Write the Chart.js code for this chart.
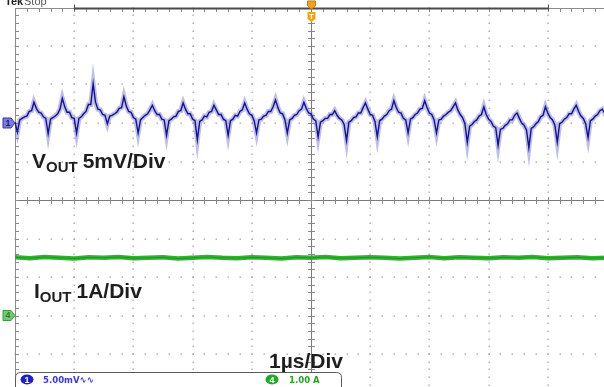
<!DOCTYPE html>
<html>
<head>
<meta charset="utf-8">
<script src="https://cdn.jsdelivr.net/npm/chart.js@4.4.0/dist/chart.umd.min.js"></script>
<style>
  html, body { margin: 0; padding: 0; background: #fff; overflow: hidden; width: 604px; height: 387px; }
  canvas { display: block; }
</style>
</head>
<body>
<canvas id="scope" width="608" height="394"></canvas>
<script>
// Horizontal: 1 µs/div, 10 divisions
const timeDivUs = 1;
const timeDivs = 10;

// Channel 1: output voltage ripple, AC coupled, 5 mV/div, sampled every 40 ns
const voutSampleNs = 40;
const voutMv = [
  0.1, -1.2, 0.4, 0.6, 0.8, 0.9, 1.5, 1.6, 2.7, 1.9, 1.4, 1.3, 0.8, 0.6, -1.4,
  0.5, 0.7, 0.9, 1.2, 1.8, 3.2, 2.1, 1.4, 1.4, 0.7, 0.6, -1.3,
  0.6, 0.8, 1.2, 1.5, 2.4, 2.4, 5.1, 2.7, 1.8, 1.7, 1.1, 1.0, -0.1,
  0.9, 1.0, 1.2, 1.4, 1.9, 2.0, 3.4, 2.2, 1.5, 1.4, 0.7, 0.5, -1.3,
  0.4, 0.7, 1.0, 1.2, 1.7, 2.3, 1.6, 1.1, 1.1, 0.5, 0.4, -1.6,
  0.3, 0.5, 0.8, 0.9, 1.5, 1.6, 2.6, 1.8, 1.2, 1.2, 0.5, 0.3, -2.2,
  0.2, 0.4, 0.9, 0.8, 1.4, 1.5, 2.3, 1.7, 1.1, 1.1, 0.5, 0.3, -1.6,
  0.3, 0.5, 1.0, 0.9, 1.5, 1.7, 2.6, 1.8, 1.2, 1.0, 0.3, -1.3,
  0.4, 0.5, 0.9, 1.0, 1.5, 1.5, 2.1, 3.0, 2.0, 1.3, 1.2, 0.4, -1.3,
  0.4, 0.6, 1.0, 1.1, 1.6, 1.8, 2.7, 1.9, 1.3, 1.2, 0.5, 0.3, -1.8,
  0.1, 0.3, 0.6, 0.6, 1.1, 1.1, 1.6, 1.0, 0.6, 0.4, -0.2, -2.3,
  0.1, 0.3, 0.7, 0.8, 1.3, 1.3, 2.0, 2.6, 1.8, 1.1, 1.0, 0.2, -1.8,
  0.3, 0.5, 0.9, 1.1, 1.6, 1.8, 2.9, 2.0, 1.4, 1.3, 0.6, 0.4, -1.3,
  0.5, 0.7, 1.1, 1.3, 1.8, 1.9, 2.9, 2.0, 1.3, 1.1, 0.4, -1.3,
  0.4, 0.5, 0.9, 1.1, 1.4, 1.6, 2.1, 2.6, 1.7, 1.1, 0.7, -0.1, -2.5,
  -0.4, -0.2, 0.2, 0.4, 0.9, 1.1, 2.1, 1.1, 0.5, 0.2, -0.4, -0.6, -2.9,
  -0.8, -0.7, -0.3, -0.1, 0.4, 0.4, 1.0, 1.3, 0.6, 0.0, -0.3, -0.9, -3.2,
  -0.7, -0.5, -0.1, 0.2, 0.8, 1.0, 2.1, 1.3, 0.7, 0.4, -0.3, -2.5,
  -0.1, 0.1, 0.5, 0.7, 1.2, 1.2, 1.8, 2.3, 1.5, 0.9, 0.6, -0.1, -1.9,
  0.3, 0.5, 0.9, 1.1, 1.6, 1.8, 1.3, 0.7
];
const voutMvPerDiv = 5;
const voutOffsetDiv = 2;     // channel 1 ground marker, divisions above centre

// Channel 4: output current, 1 A/div, sampled every 250 ns
const ioutSampleNs = 250;
const ioutA = [
  1.51, 1.49, 1.52, 1.50, 1.48, 1.51, 1.50, 1.52, 1.49, 1.50, 1.51,
  1.48, 1.50, 1.52, 1.50, 1.49, 1.51, 1.50, 1.48, 1.51, 1.50,
  1.52, 1.49, 1.50, 1.51, 1.50, 1.48, 1.50, 1.52, 1.49, 1.51,
  1.50, 1.49, 1.51, 1.50, 1.52, 1.49, 1.50, 1.51, 1.49, 1.50
];
const ioutAPerDiv = 1;
const ioutOffsetDiv = -3;    // channel 4 ground marker

const vertDivs = 10;

const toPoints = (vals, stepNs) => vals.map((v, i) => ({ x: i * stepNs / 1000, y: v }));
const voutPts = toPoints(voutMv, voutSampleNs);
const ioutPts = toPoints(ioutA, ioutSampleNs);

const LABEL_FONT = '"Liberation Sans", Arial, sans-serif';

// Oscilloscope graticule: dotted divisions, ticked centre cross and border
const graticule = {
  id: 'graticule',
  beforeDatasetsDraw(chart) {
    const { ctx, chartArea: a, scales } = chart;
    const xs = scales.x, ys = scales.yV;
    const xMin = 0, xMax = timeDivUs * timeDivs;
    const yMin = ys.min, yMax = ys.max;
    const xMinor = timeDivUs / 5, yMinor = voutMvPerDiv / 5;
    const xc = xs.getPixelForValue(xMax / 2);
    const yc = ys.getPixelForValue((yMin + yMax) / 2);
    ctx.save();
    ctx.fillStyle = '#a8a8a8';
    // vertical dotted lines
    for (let k = 1; k < timeDivs; k++) {
      if (k === timeDivs / 2) continue;
      const px = Math.round(xs.getPixelForValue(k * timeDivUs));
      for (let v = yMin; v <= yMax + 1e-9; v += yMinor) {
        const py = Math.round(ys.getPixelForValue(v));
        ctx.fillRect(px - 0.5, py - 0.5, 1.3, 1.5);
      }
    }
    // horizontal dotted lines
    for (let j = 1; j < vertDivs; j++) {
      if (j === vertDivs / 2) continue;
      const py = Math.round(ys.getPixelForValue(yMin + j * voutMvPerDiv));
      for (let t = xMin; t <= xMax + 1e-9; t += xMinor) {
        const px = Math.round(xs.getPixelForValue(t));
        ctx.fillRect(px - 0.5, py - 0.5, 1.5, 1.3);
      }
    }
    // border
    ctx.strokeStyle = '#8c8c8c';
    ctx.lineWidth = 1;
    ctx.beginPath();
    ctx.moveTo(Math.round(a.left) + 0.5, Math.round(a.bottom));
    ctx.lineTo(Math.round(a.left) + 0.5, Math.round(a.top) + 0.5);
    ctx.lineTo(Math.round(a.right), Math.round(a.top) + 0.5);
    ctx.stroke();
    // centre cross
    ctx.strokeStyle = '#7a7a7a';
    ctx.beginPath();
    ctx.moveTo(Math.round(xc) + 0.5, a.top);
    ctx.lineTo(Math.round(xc) + 0.5, a.bottom);
    ctx.moveTo(a.left, Math.round(yc) + 0.5);
    ctx.lineTo(a.right, Math.round(yc) + 0.5);
    ctx.stroke();
    // minor ticks
    ctx.strokeStyle = '#8a8a8a';
    ctx.beginPath();
    for (let v = yMin; v <= yMax + 1e-9; v += yMinor) {
      const py = Math.round(ys.getPixelForValue(v)) + 0.5;
      ctx.moveTo(Math.round(xc) - 3, py); ctx.lineTo(Math.round(xc) + 4, py);
      ctx.moveTo(Math.round(a.left), py); ctx.lineTo(Math.round(a.left) + 4, py);
    }
    for (let t = xMin; t <= xMax + 1e-9; t += xMinor) {
      const px = Math.round(xs.getPixelForValue(t)) + 0.5;
      ctx.moveTo(px, Math.round(yc) - 3); ctx.lineTo(px, Math.round(yc) + 4);
      ctx.moveTo(px, Math.round(a.top)); ctx.lineTo(px, Math.round(a.top) + 4);
    }
    ctx.stroke();
    // record window bar along the top edge
    const barL = xs.getPixelForValue(1), barR = xs.getPixelForValue(9);
    ctx.strokeStyle = '#4a4a4a';
    ctx.lineWidth = 2;
    ctx.beginPath();
    ctx.moveTo(barL, Math.round(a.top) + 0.5);
    ctx.lineTo(barR, Math.round(a.top) + 0.5);
    ctx.stroke();
    ctx.lineWidth = 1;
    ctx.beginPath();
    ctx.moveTo(Math.round(barL) + 0.5, a.top - 3); ctx.lineTo(Math.round(barL) + 0.5, a.top + 3);
    ctx.moveTo(Math.round(barR) + 0.5, a.top - 3); ctx.lineTo(Math.round(barR) + 0.5, a.top + 3);
    ctx.stroke();
    ctx.restore();
  }
};

function drawSubLabel(ctx, x, y, main, sub, rest) {
  ctx.font = 'bold 21px ' + LABEL_FONT;
  ctx.fillText(main, x, y);
  let cx = x + ctx.measureText(main).width;
  ctx.font = 'bold 15px ' + LABEL_FONT;
  ctx.fillText(sub, cx, y + 4);
  cx += ctx.measureText(sub).width + 5;
  ctx.font = 'bold 21px ' + LABEL_FONT;
  ctx.fillText(rest, cx, y);
}

function channelMarker(ctx, y, fill, stroke, txt, txtColor) {
  ctx.save();
  ctx.beginPath();
  ctx.moveTo(3, y - 5);
  ctx.lineTo(11, y - 5);
  ctx.lineTo(15, y);
  ctx.lineTo(11, y + 5);
  ctx.lineTo(3, y + 5);
  ctx.closePath();
  ctx.fillStyle = fill;
  ctx.fill();
  ctx.strokeStyle = stroke;
  ctx.lineWidth = 1;
  ctx.stroke();
  ctx.fillStyle = txtColor;
  ctx.font = 'bold 9px ' + LABEL_FONT;
  ctx.textAlign = 'center';
  ctx.textBaseline = 'middle';
  ctx.fillText(txt, 8, y + 0.5);
  ctx.restore();
}

// Labels, channel markers, trigger marker and status bar
const annotations = {
  id: 'annotations',
  afterDraw(chart) {
    const { ctx, scales } = chart;
    const xs = scales.x;
    ctx.save();
    ctx.fillStyle = '#1e1e1e';
    ctx.textBaseline = 'alphabetic';
    drawSubLabel(ctx, 32, 168, 'V', 'OUT', '5mV/Div');
    drawSubLabel(ctx, 34, 298, 'I', 'OUT', '1A/Div');
    ctx.font = 'bold 21px ' + LABEL_FONT;
    ctx.fillText('1µs/Div', 269, 368);

    // Tek Stop (top-left)
    ctx.font = 'bold 11px ' + LABEL_FONT;
    ctx.fillText('Tek', 5, 5);
    ctx.font = '11px ' + LABEL_FONT;
    ctx.fillStyle = '#555';
    ctx.fillText('Stop', 24, 5);

    // channel ground markers
    channelMarker(ctx, scales.yV.getPixelForValue(0), '#7c7cd8', '#3434a8', '1', '#1c1c80');
    channelMarker(ctx, scales.yI.getPixelForValue(0), '#74c874', '#3c9a3c', '4', '#2f7f2f');

    // trigger position marker
    const tx = Math.round(xs.getPixelForValue(timeDivUs * timeDivs / 2)) + 0.5;
    ctx.fillStyle = '#f4a21e';
    ctx.strokeStyle = '#c87a08';
    ctx.beginPath();
    ctx.moveTo(tx - 4, 1); ctx.lineTo(tx + 4, 1); ctx.lineTo(tx + 4, 6);
    ctx.lineTo(tx, 9); ctx.lineTo(tx - 4, 6); ctx.closePath();
    ctx.fill(); ctx.stroke();
    ctx.beginPath();
    ctx.moveTo(tx - 4, 12); ctx.lineTo(tx + 4, 12); ctx.lineTo(tx + 4, 19);
    ctx.lineTo(tx, 22); ctx.lineTo(tx - 4, 19); ctx.closePath();
    ctx.fill();
    ctx.fillStyle = '#fff';
    ctx.font = 'bold 8px ' + LABEL_FONT;
    ctx.textAlign = 'center';
    ctx.fillText('T', tx, 19);
    ctx.textAlign = 'left';

    // status bar
    const bx = 15.5, by = 372.5, bw = 326, bh = 24, r = 5;
    ctx.beginPath();
    ctx.moveTo(bx + r, by);
    ctx.lineTo(bx + bw - r, by);
    ctx.quadraticCurveTo(bx + bw, by, bx + bw, by + r);
    ctx.lineTo(bx + bw, by + bh);
    ctx.lineTo(bx, by + bh);
    ctx.lineTo(bx, by + r);
    ctx.quadraticCurveTo(bx, by, bx + r, by);
    ctx.closePath();
    ctx.fillStyle = '#fff';
    ctx.fill();
    ctx.strokeStyle = '#5a5a5a';
    ctx.lineWidth = 1;
    ctx.stroke();

    ctx.beginPath();
    ctx.ellipse(27, 379.5, 6.5, 5, 0, 0, Math.PI * 2);
    ctx.fillStyle = '#2222c0';
    ctx.fill();
    ctx.beginPath();
    ctx.ellipse(272, 379.5, 6.5, 5, 0, 0, Math.PI * 2);
    ctx.fillStyle = '#22a822';
    ctx.fill();
    ctx.fillStyle = '#fff';
    ctx.font = 'bold 9px ' + LABEL_FONT;
    ctx.textAlign = 'center';
    ctx.fillText('1', 27, 383);
    ctx.fillText('4', 272, 383);
    ctx.textAlign = 'left';
    ctx.font = 'bold 9.5px "DejaVu Sans Condensed", "DejaVu Sans", sans-serif';
    ctx.fillStyle = '#3a3ac8';
    ctx.fillText('5.00mV∿∿', 43, 383);
    ctx.fillStyle = '#2aa02a';
    ctx.fillText('1.00 A', 289, 383);
    ctx.restore();
  }
};

new Chart(document.getElementById('scope'), {
  type: 'line',
  data: {
    datasets: [
      {
        data: voutPts, yAxisID: 'yV', order: 1,
        borderColor: '#12128a', borderWidth: 1.4,
        pointRadius: 0, tension: 0, fill: false
      },
      {
        data: voutPts, yAxisID: 'yV', order: 2,
        borderColor: 'rgba(110,110,205,0.45)', borderWidth: 5,
        pointRadius: 0, tension: 0, fill: false
      },
      {
        data: ioutPts, yAxisID: 'yI', order: 3,
        borderColor: 'rgba(20,130,20,0.6)', borderWidth: 1,
        pointRadius: 0, tension: 0, fill: false
      },
      {
        data: ioutPts, yAxisID: 'yI', order: 4,
        borderColor: '#30b430', borderWidth: 4.5,
        pointRadius: 0, tension: 0, fill: false
      }
    ]
  },
  options: {
    responsive: false,
    devicePixelRatio: 1,
    animation: false,
    events: [],
    layout: { padding: { left: 15, top: 7.5, right: 1, bottom: 1.5 } },
    plugins: { legend: { display: false }, tooltip: { enabled: false } },
    scales: {
      x: { type: 'linear', display: false, min: 0, max: timeDivUs * timeDivs },
      yV: {
        type: 'linear', display: false,
        min: -(vertDivs / 2 + voutOffsetDiv) * voutMvPerDiv,
        max: (vertDivs / 2 - voutOffsetDiv) * voutMvPerDiv
      },
      yI: {
        type: 'linear', display: false,
        min: -(vertDivs / 2 + ioutOffsetDiv) * ioutAPerDiv,
        max: (vertDivs / 2 - ioutOffsetDiv) * ioutAPerDiv
      }
    }
  },
  plugins: [graticule, annotations]
});
</script>
</body>
</html>
